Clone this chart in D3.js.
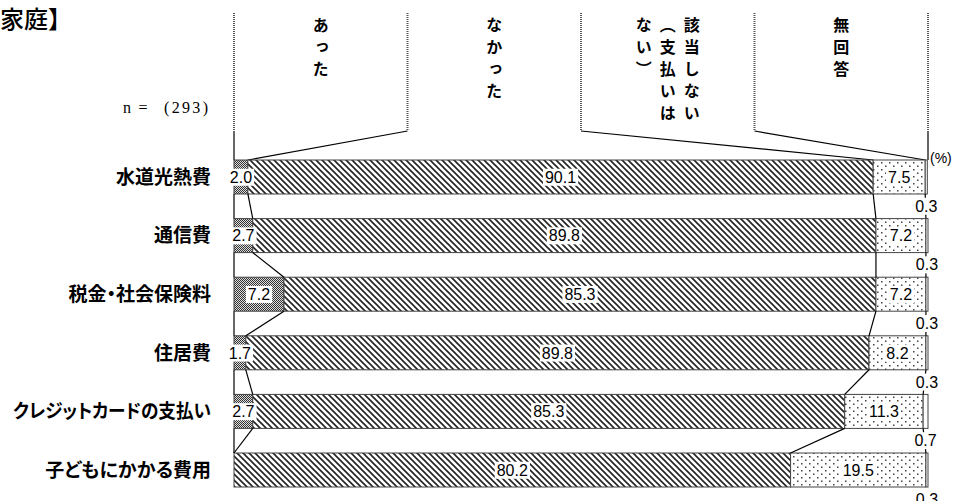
<!DOCTYPE html>
<html>
<head>
<meta charset="utf-8">
<script src="https://cdn.jsdelivr.net/npm/d3@7"></script>
<style>
  body { margin: 0; background: #fff; }
  svg { display: block; }
</style>
</head>
<body>
<svg id="chart" width="956" height="501"></svg>
<script>
// 項目
var categories = ["水道光熱費", "通信費", "税金・社会保険料", "住居費", "クレジットカードの支払い", "子どもにかかる費用"];
var seriesNames = ["あった", "なかった", "該当しない（支払いはない）", "無回答"];
// 見出し（縦書きの列）
var headerLines = [["あった"], ["なかった"], ["該当しない", "（支払いは", "ない）"], ["無回答"]];

var atta = [2.0, 2.7, 7.2, 1.7, 2.7, 0];
var nakatta = [90.1, 89.8, 85.3, 89.8, 85.3, 80.2];
var gaitou = [7.5, 7.2, 7.2, 8.2, 11.3, 19.5];
var mukaitou = [0.3, 0.3, 0.3, 0.3, 0.7, 0.3];

var sampleN = 293;

var series = [atta, nakatta, gaitou, mukaitou];

var svg = d3.select("#chart");
var jpFont = "'Noto Sans CJK JP', sans-serif";
var numFont = "'Liberation Sans', Arial, sans-serif";
var serifFont = "'Liberation Serif', 'DejaVu Serif', serif";

var x = d3.scaleLinear().domain([0, 100]).range([234, 928]);
var y = d3.scaleBand().domain(categories).range([160, 487]).paddingInner(0.42).paddingOuter(0);

// パターン
var defs = svg.append("defs");
var p0 = defs.append("pattern").attr("id", "pat0").attr("patternUnits", "userSpaceOnUse").attr("width", 2).attr("height", 2);
p0.append("rect").attr("width", 2).attr("height", 2).attr("fill", "#ddd");
p0.append("rect").attr("width", 1).attr("height", 1).attr("fill", "#333");
p0.append("rect").attr("x", 1).attr("y", 1).attr("width", 1).attr("height", 1).attr("fill", "#333");

var p1 = defs.append("pattern").attr("id", "pat1").attr("patternUnits", "userSpaceOnUse").attr("width", 6).attr("height", 6);
p1.append("rect").attr("width", 6).attr("height", 6).attr("fill", "#fff");
p1.append("path").attr("d", "M0,0L6,6M-1,5L1,7M5,-1L7,1").attr("stroke", "#222").attr("stroke-width", 1.6);

var p2 = defs.append("pattern").attr("id", "pat2").attr("patternUnits", "userSpaceOnUse").attr("width", 8).attr("height", 7);
p2.append("rect").attr("width", 8).attr("height", 7).attr("fill", "#fff");
p2.append("rect").attr("x", 1).attr("y", 1).attr("width", 1.5).attr("height", 1.5).attr("fill", "#444");
p2.append("rect").attr("x", 5).attr("y", 4.5).attr("width", 1.5).attr("height", 1.5).attr("fill", "#444");

var fills = ["url(#pat0)", "url(#pat1)", "url(#pat2)", "#fff"];

// 累積
var stacked = categories.map(function (c, i) {
  var acc = 0;
  return series.map(function (s, k) {
    var seg = {row: c, k: k, v: s[i], x0: acc, x1: acc + s[i]};
    acc += s[i];
    return seg;
  });
});

// タイトル断片
svg.append("text").attr("x", 0).attr("y", 28)
  .attr("font-family", jpFont).attr("font-size", 24).attr("font-weight", 500)
  .text("家庭】");

// n = (293)
var nG = svg.append("g").attr("font-family", serifFont).attr("font-size", 16);
nG.append("text").attr("x", 123).attr("y", 113).text("n");
nG.append("text").attr("x", 143).attr("y", 113).attr("text-anchor", "middle").text("=");
nG.append("text").attr("x", 208).attr("y", 113).attr("text-anchor", "end")
  .attr("textLength", 44).attr("lengthAdjust", "spacing")
  .text("(" + sampleN + ")");

svg.append("text").attr("x", 930).attr("y", 163)
  .attr("font-family", numFont).attr("font-size", 14)
  .text("(%)");

// 見出し枠
var boxTop = 13, boxBottom = 131;
var bounds = [0, 25, 50, 75, 100];
var row0 = stacked[0];
var firstCum = [0, row0[0].x1, row0[1].x1, row0[2].x1, 100];

var hdr = svg.append("g");
bounds.forEach(function (b, i) {
  hdr.append("line")
    .attr("x1", x(b)).attr("x2", x(b))
    .attr("y1", boxTop).attr("y2", boxBottom)
    .attr("stroke", "#555").attr("stroke-width", 2).attr("stroke-dasharray", "1,1");
  hdr.append("line")
    .attr("x1", x(b)).attr("y1", boxBottom)
    .attr("x2", x(firstCum[i])).attr("y2", y(categories[0]))
    .attr("stroke", "#000").attr("stroke-width", 1.2);
});

headerLines.forEach(function (lines, k) {
  var cx = x((bounds[k] + bounds[k + 1]) / 2);
  var n = lines.length;
  lines.forEach(function (ln, j) {
    hdr.append("text")
      .attr("x", cx + ((n - 1) / 2 - j) * 24)
      .attr("y", 17)
      .attr("font-family", jpFont).attr("font-size", 16).attr("font-weight", "bold")
      .style("writing-mode", "vertical-rl")
      .style("letter-spacing", "6px")
      .text(ln);
  });
});

// 棒
var rows = svg.append("g").selectAll("g").data(stacked).enter().append("g");

rows.selectAll("rect").data(function (d) { return d; }).enter()
  .filter(function (d) { return d.v > 0; })
  .append("rect")
  .attr("x", function (d) { return x(d.x0); })
  .attr("y", function (d) { return y(d.row); })
  .attr("width", function (d) { return x(d.x1) - x(d.x0); })
  .attr("height", y.bandwidth())
  .attr("fill", function (d) { return fills[d.k]; })
  .attr("stroke", "#444").attr("stroke-width", 1);

// 行間の線
var conn = svg.append("g");
for (var i = 0; i < stacked.length - 1; i++) {
  var a = stacked[i], b = stacked[i + 1];
  var yb = y(categories[i]) + y.bandwidth();
  var yt = y(categories[i + 1]);
  [0, 1, 2, 3].forEach(function (k) {
    var xa = k === 0 ? 0 : a[k - 1].x1;
    var xb = k === 0 ? 0 : b[k - 1].x1;
    conn.append("line")
      .attr("x1", x(xa)).attr("y1", yb)
      .attr("x2", x(xb)).attr("y2", yt)
      .attr("stroke", "#000").attr("stroke-width", 1.2);
  });
}

// 数値ラベル
var labels = svg.append("g");
stacked.forEach(function (row) {
  row.forEach(function (d) {
    if (d.v <= 0) return;
    var cx = x((d.x0 + d.x1) / 2);
    var cy = y(d.row) + y.bandwidth() / 2;
    if (d.k === 3) cy = y(d.row) + y.bandwidth() + 12;
    var t = labels.append("text")
      .attr("x", cx).attr("y", cy)
      .attr("text-anchor", "middle").attr("dy", "0.36em")
      .attr("font-family", numFont).attr("font-size", 16)
      .text(d.v.toFixed(1));
    var bb = t.node().getBBox();
    labels.insert("rect", function () { return t.node(); })
      .attr("x", bb.x - 2).attr("y", bb.y)
      .attr("width", bb.width + 4).attr("height", bb.height)
      .attr("fill", "#fff");
  });
});

// 項目ラベル
svg.append("g").selectAll("text").data(categories).enter().append("text")
  .attr("x", 211)
  .attr("y", function (d) { return y(d) + y.bandwidth() / 2; })
  .attr("dy", "0.36em")
  .attr("text-anchor", "end")
  .attr("font-family", jpFont).attr("font-size", 19).attr("font-weight", "bold")
  .style("font-feature-settings", "'palt'")
  .text(function (d) { return d; })
  .each(function () {
    // 長いラベルは左端からはみ出さないよう詰める
    if (this.getComputedTextLength() > 198) {
      d3.select(this).attr("textLength", 198).attr("lengthAdjust", "spacingAndGlyphs");
    }
  });
</script>
</body>
</html>
